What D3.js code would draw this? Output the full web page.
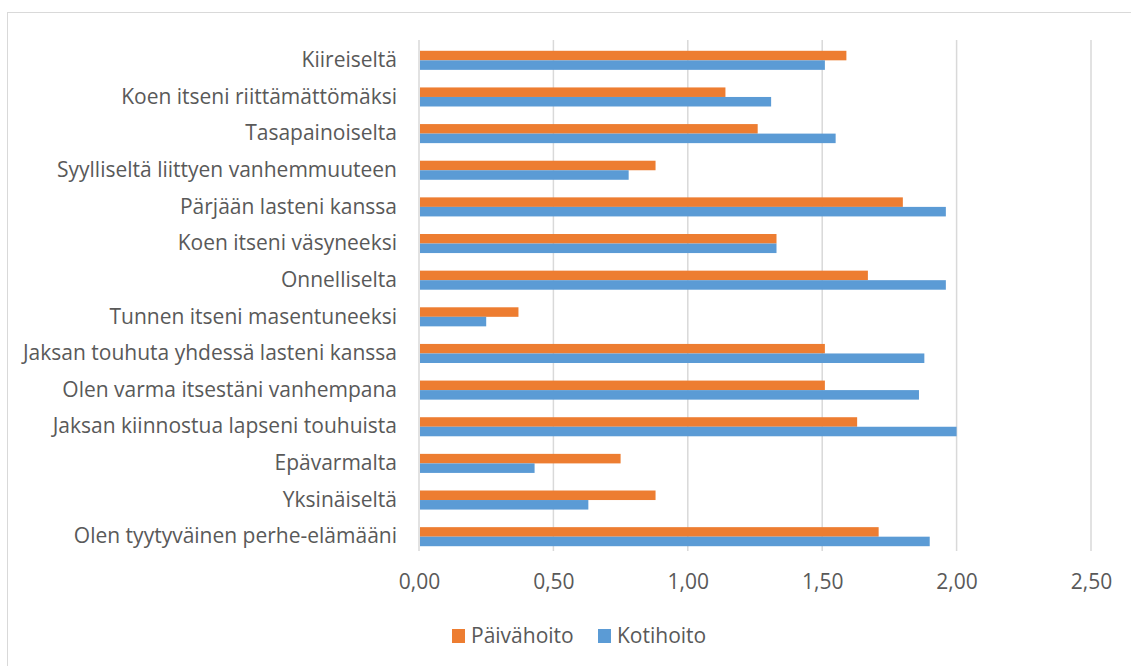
<!DOCTYPE html>
<html>
<head>
<meta charset="utf-8">
<script src="https://cdn.jsdelivr.net/npm/d3@7"></script>
<style>
  body { margin: 0; background: #fff; }
  text { font-family: "Open Sans", sans-serif; fill: #595959; }
</style>
</head>
<body>
<div id="chart"></div>
<script>
// categories, top to bottom
var categories = [
    "Kiireiseltä",
    "Koen itseni riittämättömäksi",
    "Tasapainoiselta",
    "Syylliseltä liittyen vanhemmuuteen",
    "Pärjään lasteni kanssa",
    "Koen itseni väsyneeksi",
    "Onnelliselta",
    "Tunnen itseni masentuneeksi",
    "Jaksan touhuta yhdessä lasteni kanssa",
    "Olen varma itsestäni vanhempana",
    "Jaksan kiinnostua lapseni touhuista",
    "Epävarmalta",
    "Yksinäiseltä",
    "Olen tyytyväinen perhe-elämääni"
];

var paivahoito = [1.59, 1.14, 1.26, 0.88, 1.80, 1.33, 1.67, 0.37, 1.51, 1.51, 1.63, 0.75, 0.88, 1.71];
var kotihoito  = [1.51, 1.31, 1.55, 0.78, 1.96, 1.33, 1.96, 0.25, 1.88, 1.86, 2.00, 0.43, 0.63, 1.90];

var series = ["Päivähoito", "Kotihoito"];
var xTicks = [0, 0.5, 1, 1.5, 2, 2.5];

var W = 1131, H = 666;
var margin = { top: 42, left: 419 },
    width = 1091 - margin.left,
    height = 555 - margin.top;

var color = d3.scaleOrdinal()
    .domain(series)
    .range(["#ED7D31", "#5B9BD5"]);

var svg = d3.select("#chart")
    .append("svg")
    .attr("width", W)
    .attr("height", H);

// chart border (right and bottom run off the picture)
svg.append("rect")
    .attr("x", 7.5)
    .attr("y", 12.5)
    .attr("width", W + 20)
    .attr("height", H + 20)
    .attr("fill", "none")
    .attr("stroke", "#d9d9d9");

var g = svg.append("g")
    .attr("transform", "translate(" + margin.left + "," + margin.top + ")");

var x = d3.scaleLinear()
    .domain([0, 2.5])
    .range([0, width]);

var y = d3.scaleBand()
    .domain(categories)
    .range([0, height])
    .paddingInner(0.48)
    .paddingOuter(0.24);

var y1 = d3.scaleBand()
    .domain(series)
    .range([0, y.bandwidth()]);

// gridlines
g.selectAll(".grid")
    .data(xTicks)
    .enter()
    .append("line")
    .attr("x1", function (d) { return x(d) })
    .attr("x2", function (d) { return x(d) })
    .attr("y1", -2)
    .attr("y2", height - 4)
    .attr("stroke", "#d9d9d9")
    .attr("stroke-width", 1.5);

// x axis labels
var fmt = function (d) { return d3.format(".2f")(d).replace(".", ","); };
var xAxis = g.append("g")
    .attr("transform", "translate(0," + height + ")")
    .call(d3.axisBottom(x).tickValues(xTicks).tickFormat(fmt).tickSize(0).tickPadding(19));
xAxis.select(".domain").remove();
xAxis.selectAll("text")
    .style("font-size", "21px")
    .style("font-family", "'Open Sans', sans-serif")
    .attr("fill", "#595959");

// y axis labels
var yAxis = g.append("g")
    .call(d3.axisLeft(y).tickSize(0).tickPadding(22));
yAxis.select(".domain").remove();
yAxis.selectAll("text")
    .style("font-size", "21px")
    .style("font-family", "'Open Sans', sans-serif")
    .attr("fill", "#595959");

// bars
var rows = categories.map(function (c, i) {
    return { cat: c, values: [
        { key: "Päivähoito", value: paivahoito[i] },
        { key: "Kotihoito", value: kotihoito[i] }
    ] };
});

g.selectAll(".row")
    .data(rows)
    .enter()
    .append("g")
    .attr("transform", function (d) { return "translate(0," + y(d.cat) + ")" })
    .selectAll("rect")
    .data(function (d) { return d.values })
    .enter()
    .append("rect")
    .attr("x", x(0) + 1)
    .attr("y", function (d) { return y1(d.key) })
    .attr("width", function (d) { return x(d.value) - x(0) - 1 })
    .attr("height", y1.bandwidth())
    .attr("fill", function (d) { return color(d.key) });

// legend
var legendX = [452, 598];
var legend = svg.selectAll(".legend")
    .data(series)
    .enter()
    .append("g")
    .attr("transform", function (d, i) { return "translate(" + legendX[i] + ",636)" });
legend.append("rect")
    .attr("x", 0)
    .attr("y", -7)
    .attr("width", 13)
    .attr("height", 14)
    .attr("fill", function (d) { return color(d) });
legend.append("text")
    .attr("x", 19)
    .attr("y", 0)
    .attr("dy", "0.35em")
    .style("font-size", "21px")
    .text(function (d) { return d });
</script>
</body>
</html>
